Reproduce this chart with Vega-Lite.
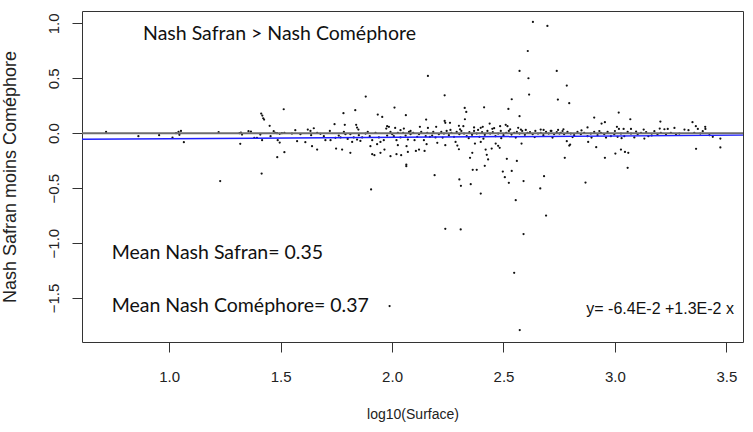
{
  "$schema": "https://vega.github.io/schema/vega-lite/v6.json",
  "width": 661,
  "height": 331,
  "autosize": {"type": "none"},
  "padding": {"left": 82, "top": 11, "right": 10, "bottom": 90},
  "background": "white",
  "config": {
    "view": {"stroke": "#333", "strokeWidth": 1},
    "axis": {"grid": false, "domain": false, "tickColor": "#333", "tickSize": 10, "labelColor": "#222", "titleColor": "#222", "labelFont": "Liberation Sans", "titleFont": "Liberation Sans", "titleFontWeight": "normal"}
  },
  "datasets": {
    "pts": [
      {"x":0.717,"y":0.012},{"x":0.862,"y":-0.027},{"x":0.955,"y":-0.018},{"x":1.015,"y":-0.04},{"x":1.031,"y":0},{"x":1.042,"y":0.012},{"x":1.046,"y":-0.015},{"x":1.053,"y":0.021},{"x":1.066,"y":-0.082},{"x":1.229,"y":-0.436},{"x":1.222,"y":0.009},{"x":1.316,"y":0},{"x":1.322,"y":0.006},{"x":1.327,"y":-0.012},{"x":1.319,"y":-0.097},{"x":1.356,"y":0.018},{"x":1.367,"y":0.015},{"x":1.382,"y":-0.042},{"x":1.394,"y":-0.042},{"x":1.409,"y":-0.012},{"x":1.417,"y":-0.064},{"x":1.415,"y":-0.367},{"x":1.413,"y":0.179},{"x":1.418,"y":0.161},{"x":1.422,"y":0.136},{"x":1.426,"y":0.124},{"x":1.451,"y":0.067},{"x":1.455,"y":-0.027},{"x":1.469,"y":0.018},{"x":1.476,"y":0.003},{"x":1.484,"y":0},{"x":1.496,"y":-0.006},{"x":1.506,"y":0},{"x":1.517,"y":0.003},{"x":1.514,"y":0.218},{"x":1.487,"y":-0.064},{"x":1.496,"y":-0.085},{"x":1.517,"y":-0.173},{"x":1.485,"y":-0.218},
      {"x":2.161,"y":0.521},{"x":1.882,"y":0.333},{"x":1.782,"y":0.182},{"x":1.835,"y":0.209},{"x":1.936,"y":0.17},{"x":1.956,"y":0.148},{"x":2.011,"y":0.233},{"x":2.062,"y":0.164},{"x":2.153,"y":0.124},{"x":1.742,"y":0.082},{"x":1.788,"y":0.076},{"x":1.839,"y":0.076},{"x":1.843,"y":0.051},{"x":1.849,"y":0.033},{"x":1.978,"y":0.064},{"x":1.986,"y":0.058},{"x":1.974,"y":0.042},{"x":2.014,"y":0.048},{"x":2.038,"y":0.027},{"x":2.053,"y":0.042},{"x":2.083,"y":0.021},{"x":2.125,"y":0.058},{"x":2.161,"y":0.048},{"x":2.198,"y":0.058},
      {"x":1.566,"y":0.027},{"x":1.551,"y":-0.003},{"x":1.574,"y":-0.073},{"x":1.611,"y":-0.082},{"x":1.622,"y":0.033},{"x":1.634,"y":0.021},{"x":1.649,"y":0.045},{"x":1.637,"y":-0.018},{"x":1.664,"y":0.003},{"x":1.679,"y":-0.006},{"x":1.701,"y":-0.064},{"x":1.721,"y":0.021},{"x":1.724,"y":-0.064},{"x":1.746,"y":-0.042},{"x":1.761,"y":-0.021},{"x":1.769,"y":-0.039},{"x":1.791,"y":-0.009},{"x":1.801,"y":-0.052},{"x":1.813,"y":-0.009},{"x":1.821,"y":-0.079},{"x":1.828,"y":-0.039},{"x":1.843,"y":-0.058},{"x":1.858,"y":-0.07},{"x":1.866,"y":-0.039},{"x":1.881,"y":-0.003},{"x":1.9,"y":-0.027},{"x":1.911,"y":-0.064},{"x":1.926,"y":0.003},{"x":1.941,"y":-0.039},{"x":1.948,"y":-0.079},{"x":1.963,"y":-0.064},{"x":1.978,"y":-0.021},{"x":1.993,"y":0.012},{"x":2.008,"y":-0.027},{"x":2.02,"y":-0.064},{"x":2.026,"y":0.003},{"x":2.038,"y":-0.039},{"x":2.05,"y":0.003},{"x":2.061,"y":-0.021},{"x":2.071,"y":-0.058},{"x":2.083,"y":-0.009},{"x":2.095,"y":0.003},{"x":2.101,"y":-0.064},{"x":2.113,"y":-0.033},{"x":2.131,"y":0.012},{"x":2.143,"y":-0.064},{"x":2.158,"y":0.003},{"x":2.17,"y":-0.033},{"x":2.18,"y":-0.021},{"x":2.195,"y":-0.039},{"x":2.21,"y":-0.009},
      {"x":1.589,"y":-0.009},{"x":1.694,"y":-0.027},{"x":1.784,"y":0.012},{"x":1.851,"y":-0.018},{"x":1.891,"y":0.012},{"x":2.001,"y":-0.009},{"x":2.076,"y":0.012},{"x":2.121,"y":-0.009},{"x":2.151,"y":-0.027},{"x":2.185,"y":0.012},
      {"x":1.641,"y":-0.118},{"x":1.664,"y":-0.149},{"x":1.749,"y":-0.14},{"x":1.776,"y":-0.149},{"x":1.813,"y":-0.179},{"x":1.903,"y":-0.118},{"x":1.911,"y":-0.191},{"x":1.921,"y":-0.2},{"x":1.933,"y":-0.1},{"x":1.948,"y":-0.179},{"x":1.966,"y":-0.149},{"x":1.993,"y":-0.209},{"x":2.02,"y":-0.191},{"x":2.026,"y":-0.109},{"x":2.041,"y":-0.2},{"x":2.065,"y":-0.118},{"x":2.071,"y":-0.17},{"x":2.107,"y":-0.161},{"x":2.121,"y":-0.149},{"x":2.146,"y":-0.161},{"x":2.155,"y":-0.1},{"x":2.203,"y":-0.088},{"x":2.064,"y":-0.285},{"x":2.064,"y":-0.3},{"x":2.191,"y":-0.382},{"x":1.906,"y":-0.512},{"x":1.989,"y":-1.573},
      {"x":2.632,"y":1.012},{"x":2.697,"y":0.976},{"x":2.609,"y":0.748},{"x":2.572,"y":0.567},{"x":2.612,"y":0.5},{"x":2.739,"y":0.567},{"x":2.615,"y":0.352},{"x":2.744,"y":0.306},{"x":2.537,"y":0.309},{"x":2.236,"y":0.345},{"x":2.326,"y":0.23},{"x":2.333,"y":0.194},{"x":2.413,"y":0.236},{"x":2.522,"y":0.221},{"x":2.572,"y":0.155},{"x":2.327,"y":0.127},{"x":2.236,"y":0.112},{"x":2.239,"y":0.094},{"x":2.26,"y":0.094},{"x":2.438,"y":0.088},
      {"x":2.3,"y":0.067},{"x":2.32,"y":0.064},{"x":2.368,"y":0.052},{"x":2.398,"y":0.049},{"x":2.407,"y":0.058},{"x":2.458,"y":0.046},{"x":2.485,"y":0.064},{"x":2.51,"y":0.076},{"x":2.518,"y":0.064},{"x":2.566,"y":0.049},{"x":2.578,"y":0.033},{"x":2.667,"y":0.033},{"x":2.712,"y":0.021},
      {"x":2.221,"y":0.012},{"x":2.233,"y":-0.003},{"x":2.245,"y":0.021},{"x":2.255,"y":-0.018},{"x":2.266,"y":0.003},{"x":2.278,"y":-0.033},{"x":2.29,"y":0.012},{"x":2.302,"y":-0.009},{"x":2.311,"y":0.021},{"x":2.323,"y":-0.003},{"x":2.335,"y":-0.027},{"x":2.347,"y":0.009},{"x":2.359,"y":-0.015},{"x":2.368,"y":0.021},{"x":2.38,"y":-0.003},{"x":2.392,"y":-0.033},{"x":2.404,"y":0.009},{"x":2.416,"y":-0.015},{"x":2.428,"y":0.021},{"x":2.44,"y":-0.003},{"x":2.452,"y":0.009},{"x":2.464,"y":-0.027},{"x":2.476,"y":-0.003},{"x":2.488,"y":0.021},{"x":2.5,"y":-0.018},{"x":2.512,"y":0.003},{"x":2.524,"y":0.021},{"x":2.536,"y":-0.012},{"x":2.548,"y":0.003},{"x":2.56,"y":0.012},{"x":2.572,"y":-0.003},{"x":2.584,"y":0.021},{"x":2.596,"y":-0.015},{"x":2.608,"y":0.003},{"x":2.619,"y":0.009},{"x":2.631,"y":-0.009},{"x":2.643,"y":0.021},{"x":2.655,"y":-0.003},{"x":2.667,"y":0.003},{"x":2.679,"y":-0.018},{"x":2.691,"y":0.012},{"x":2.703,"y":-0.003},{"x":2.715,"y":0.021},{"x":2.727,"y":-0.009},{"x":2.739,"y":0.009},{"x":2.751,"y":-0.003},
      {"x":2.227,"y":-0.04},{"x":2.262,"y":0.03},{"x":2.305,"y":0.035},{"x":2.344,"y":-0.045},{"x":2.386,"y":0.03},{"x":2.41,"y":-0.05},{"x":2.45,"y":0.04},{"x":2.49,"y":-0.045},{"x":2.53,"y":0.035},{"x":2.555,"y":-0.04},{"x":2.6,"y":0.03},{"x":2.64,"y":-0.035},{"x":2.68,"y":0.03},{"x":2.72,"y":-0.04},{"x":2.745,"y":0.03},
      {"x":2.239,"y":-0.109},{"x":2.285,"y":-0.079},{"x":2.293,"y":-0.112},{"x":2.3,"y":-0.146},{"x":2.36,"y":-0.179},{"x":2.35,"y":-0.224},{"x":2.372,"y":-0.094},{"x":2.398,"y":-0.079},{"x":2.42,"y":-0.149},{"x":2.425,"y":-0.197},{"x":2.431,"y":-0.239},{"x":2.416,"y":-0.297},{"x":2.362,"y":-0.333},{"x":2.38,"y":-0.333},{"x":2.447,"y":-0.14},{"x":2.465,"y":-0.094},{"x":2.476,"y":-0.115},{"x":2.483,"y":-0.133},{"x":2.515,"y":-0.233},{"x":2.56,"y":-0.252},{"x":2.497,"y":-0.349},{"x":2.506,"y":-0.4},{"x":2.524,"y":-0.452},{"x":2.537,"y":-0.343},{"x":2.59,"y":-0.436},{"x":2.581,"y":-0.094},{"x":2.302,"y":-0.421},{"x":2.309,"y":-0.479},{"x":2.353,"y":-0.464},{"x":2.398,"y":-0.549},{"x":2.555,"y":-0.609},{"x":2.682,"y":-0.391},{"x":2.665,"y":-0.503},{"x":2.691,"y":-0.749},{"x":2.239,"y":-0.87},{"x":2.308,"y":-0.876},{"x":2.59,"y":-0.918},{"x":2.548,"y":-1.27},{"x":2.573,"y":-1.791},
      {"x":2.784,"y":0.433},{"x":2.795,"y":0.273},{"x":2.907,"y":0.142},{"x":2.94,"y":0.088},{"x":2.955,"y":0.1},{"x":3.017,"y":0.188},{"x":3.069,"y":0.127},{"x":2.877,"y":0.052},{"x":3.009,"y":0.058},{"x":3.018,"y":0.039},{"x":3.039,"y":0.039},{"x":3.072,"y":0.039},{"x":2.769,"y":0.036},{"x":3.204,"y":0.106},{"x":3.201,"y":0.042},{"x":3.222,"y":0.036},{"x":3.237,"y":0.039},{"x":3.267,"y":0.048},{"x":3.348,"y":0.1},{"x":3.363,"y":0.064},{"x":3.372,"y":0.039},{"x":3.405,"y":0.058},{"x":3.406,"y":0.039},{"x":3.394,"y":0.018},{"x":3.312,"y":0.033},{"x":3.33,"y":0.027},{"x":3.177,"y":0.018},{"x":3.129,"y":0.033},
      {"x":2.757,"y":0.003},{"x":2.772,"y":-0.009},{"x":2.787,"y":0.012},{"x":2.802,"y":-0.003},{"x":2.817,"y":-0.018},{"x":2.832,"y":0.012},{"x":2.847,"y":-0.009},{"x":2.862,"y":0.003},{"x":2.877,"y":-0.027},{"x":2.892,"y":-0.003},{"x":2.907,"y":0.012},{"x":2.922,"y":-0.018},{"x":2.937,"y":0.003},{"x":2.952,"y":-0.009},{"x":2.967,"y":0.012},{"x":2.982,"y":-0.027},{"x":2.997,"y":-0.009},{"x":3.012,"y":-0.033},{"x":3.027,"y":-0.003},{"x":3.042,"y":-0.027},{"x":3.057,"y":0.012},{"x":3.072,"y":-0.003},{"x":3.087,"y":-0.039},{"x":3.102,"y":-0.009},{"x":3.117,"y":0.003},{"x":3.132,"y":-0.049},{"x":3.15,"y":-0.027},{"x":3.191,"y":-0.009},{"x":3.206,"y":0.003},{"x":3.229,"y":-0.009},{"x":3.251,"y":0.003},{"x":3.274,"y":-0.009},{"x":3.289,"y":-0.003},{"x":3.356,"y":0.003},{"x":3.383,"y":-0.003},{"x":3.424,"y":-0.018},{"x":3.439,"y":-0.033},{"x":3.473,"y":-0.049},{"x":3.473,"y":-0.13},{"x":3.364,"y":-0.142},
      {"x":2.765,"y":0.02},{"x":2.81,"y":-0.035},{"x":2.85,"y":0.025},{"x":2.895,"y":-0.04},{"x":2.93,"y":0.02},{"x":2.96,"y":-0.04},{"x":3.0,"y":0.02},{"x":3.03,"y":-0.045},{"x":3.095,"y":0.015},{"x":3.14,"y":0.01},{"x":3.165,"y":-0.02},
      {"x":2.784,"y":-0.073},{"x":2.795,"y":-0.112},{"x":2.799,"y":-0.103},{"x":2.775,"y":-0.224},{"x":2.88,"y":-0.079},{"x":2.916,"y":-0.127},{"x":2.955,"y":-0.224},{"x":3.002,"y":-0.185},{"x":3.027,"y":-0.149},{"x":3.045,"y":-0.17},{"x":3.06,"y":-0.179},{"x":3.057,"y":-0.315},{"x":2.868,"y":-0.449}
    ],
    "zero": [{"y": 0}],
    "fit": [{"x": 0.609, "y": -0.0561}, {"x": 3.5746, "y": -0.0175}],
    "notes": [
      {"x": 0.883, "y": 0.905, "label": "Nash Safran > Nash Coméphore"},
      {"x": 0.742, "y": -1.094, "label": "Mean Nash Safran= 0.35"},
      {"x": 0.742, "y": -1.575, "label": "Mean Nash Coméphore= 0.37"}
    ],
    "eq": [{"x": 3.534, "y": -1.598, "label": "y= -6.4E-2 +1.3E-2 x"}]
  },
  "layer": [
    {"data": {"name": "pts"}, "mark": {"type": "point", "filled": true, "shape": "circle", "size": 5, "color": "#111", "opacity": 1},
      "encoding": {
        "x": {"field": "x", "type": "quantitative",
          "scale": {"domain": [0.609, 3.5746], "nice": false, "zero": false},
          "axis": {"values": [1, 1.5, 2, 2.5, 3, 3.5], "format": ".1f", "labelFontSize": 15, "labelPadding": 17, "title": "log10(Surface)", "titleFontSize": 14, "titleY": 76, "titleBaseline": "alphabetic"}},
        "y": {"field": "y", "type": "quantitative",
          "scale": {"domain": [-1.9, 1.112], "nice": false, "zero": false},
          "axis": {"values": [-1.5, -1, -0.5, 0, 0.5, 1], "format": ".1f", "labelFontSize": 15, "labelAngle": -90, "labelAlign": "center", "labelBaseline": "alphabetic", "labelPadding": 14, "title": "Nash Safran moins Coméphore", "titleFontSize": 18, "titleAngle": -90, "titleAlign": "center", "titleBaseline": "alphabetic", "titleX": -67, "titleY": 165.5}}
      }},
    {"data": {"name": "zero"}, "mark": {"type": "rule", "color": "#6e6e6e", "strokeWidth": 2}, "encoding": {"y": {"field": "y", "type": "quantitative"}}},
    {"data": {"name": "fit"}, "mark": {"type": "line", "color": "#2020ff", "strokeWidth": 1.5}, "encoding": {"x": {"field": "x", "type": "quantitative"}, "y": {"field": "y", "type": "quantitative"}}},
    {"data": {"name": "notes"}, "mark": {"type": "text", "font": "Lato", "fontSize": 19.5, "align": "left", "baseline": "middle", "color": "#111"}, "encoding": {"x": {"field": "x", "type": "quantitative"}, "y": {"field": "y", "type": "quantitative"}, "text": {"field": "label"}}},
    {"data": {"name": "eq"}, "mark": {"type": "text", "font": "Liberation Sans", "fontSize": 16, "align": "right", "baseline": "middle", "color": "#111"}, "encoding": {"x": {"field": "x", "type": "quantitative"}, "y": {"field": "y", "type": "quantitative"}, "text": {"field": "label"}}}
  ]
}
